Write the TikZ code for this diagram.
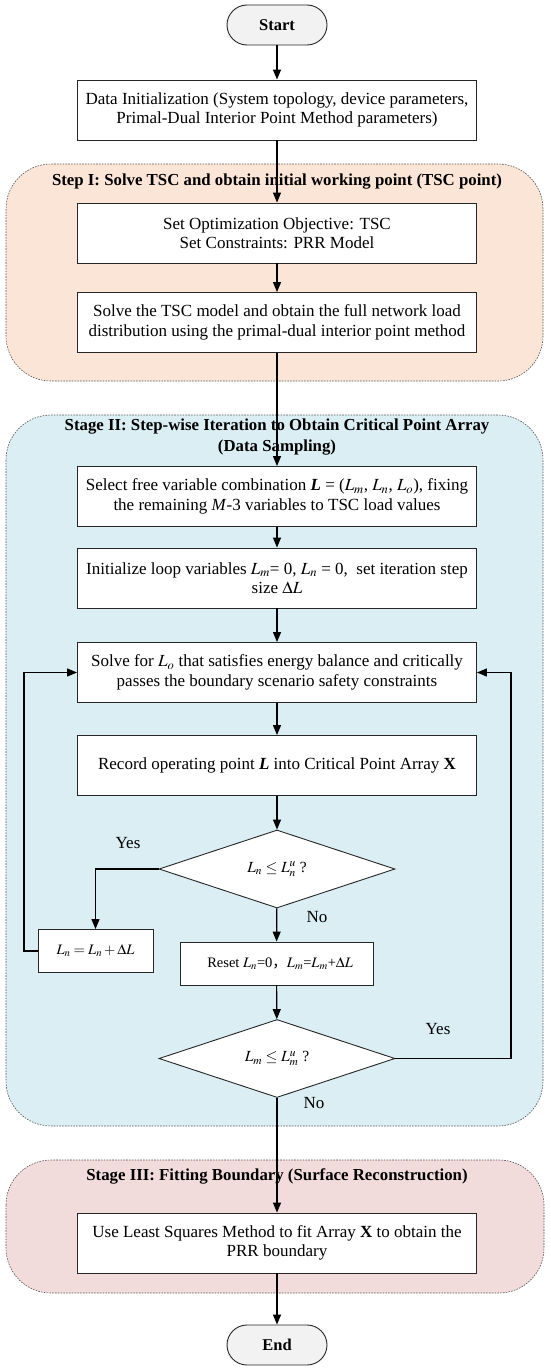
\documentclass[tikz,border=0pt]{standalone}
\usepackage{mathptmx}
\usepackage{fontspec}
\setmainfont{Liberation Serif}
\newfontfamily\cjk{Noto Sans CJK SC}
\usepackage{xcolor}
\usepackage{tikz}
\usetikzlibrary{positioning, arrows.meta, calc, shapes.geometric}
\definecolor{stageone}{HTML}{FBE5D6}
\definecolor{stagetwo}{HTML}{DAEEF3}
\definecolor{stagethree}{HTML}{F2DCDB}
\definecolor{termgray}{HTML}{F2F2F2}
\definecolor{edgegray}{HTML}{555555}

\begin{document}
\begin{tikzpicture}[x=1pt, y=-1pt,
    every node/.style={font=\fontsize{17}{19.5}\selectfont},
    region/.style={draw=edgegray, line width=0.6pt, dash pattern=on 1.6pt off 1.2pt, rounded corners=45pt},
    stagetitle/.style={font=\fontsize{16.8}{21}\selectfont\bfseries, align=center, inner sep=1pt},
    procbox/.style={draw=black!85, fill=white, line width=0.9pt, minimum width=399pt, minimum height=60pt, align=center, inner sep=2pt},
    smallbox/.style={procbox, minimum width=#1, minimum height=43pt, font=\fontsize{14.5}{19}\selectfont},
    terminal/.style={draw=black!85, fill=termgray, line width=0.9pt, rounded corners=20pt, minimum width=100pt, minimum height=40pt, font=\fontsize{16.5}{19}\selectfont\bfseries},
    decision/.style={diamond, draw=black!85, fill=white, line width=0.9pt, aspect=3, minimum width=236pt, minimum height=78pt, inner sep=0pt, font=\fontsize{15.5}{19}\selectfont},
    flow/.style={line width=1.2pt, -{Triangle[length=10pt,width=8pt]}},
    answer/.style={inner sep=1pt}]
  \useasboundingbox (0,0) rectangle (550,1370);

  % stage backgrounds
  \draw[region, fill=stageone] (6,164) rectangle (543,381);
  \draw[region, fill=stagetwo] (6,415) rectangle (543,1126);
  \draw[region, fill=stagethree] (6,1160) rectangle (544,1293);

  \node[stagetitle] (titleone) at (277,182) {Step I: Solve TSC and obtain initial working point (TSC point)};
  \node[stagetitle] (titletwo) at (277,437.5) {Stage II: Step-wise Iteration to Obtain Critical Point Array\\(Data Sampling)};
  \node[stagetitle] (titlethree) at (277,1176) {Stage III: Fitting Boundary (Surface Reconstruction)};

  % main column
  \node[terminal] (start) at (277,25) {Start};
  \node[procbox] (init) at (277,110) {Data Initialization (System topology, device parameters,\\Primal-Dual Interior Point Method parameters)};
  \node[procbox] (objective) at (277,233) {Set Optimization Objective: TSC\\Set Constraints: PRR Model};
  \node[procbox] (tscsolve) at (277,322.5) {Solve the TSC model and obtain the full network load\\distribution using the primal-dual interior point method};
  \node[procbox] (select) at (277,496.5) {Select free variable combination \textbf{\textit{L}} = ($L_m$, $L_n$, $L_o$), fixing\\the remaining \textit{M}-3 variables to TSC load values};
  \node[procbox] (loopinit) at (277,578) {Initialize loop variables $L_m$= 0, $L_n$ = 0,\ \ set iteration step\\size $\Delta L$};
  \node[procbox] (critical) at (277,672.5) {Solve for $L_o$ that satisfies energy balance and critically\\passes the boundary scenario safety constraints};
  \node[procbox] (record) at (277,765.5) {Record operating point \textbf{\textit{L}} into Critical Point Array \textbf{X}};
  \node[decision] (checkn) at (277,869) {$L_n \le L_n^u$ ?};
  \node[smallbox=115pt] (stepn) at (95.5,951) {$L_n = L_n + \Delta L$};
  \node[smallbox=193pt] (reset) at (276.5,963.5) {\ \ Reset $L_n$=0{\cjk ，}$L_m$=$L_m$+$\Delta L$};
  \node[decision] (checkm) at (277,1058.5) {$L_m \le L_m^u$ ?};
  \node[procbox] (fitting) at (277,1243) {Use Least Squares Method to fit Array \textbf{X} to obtain the\\PRR boundary};
  \node[terminal] (end) at (277,1345) {End};

  \coordinate (leftloop) at (24,951);
  \coordinate (rightloop) at (511,1058.5);

  % connectors
  \draw[flow] (start) -- (init);
  \draw[flow] (init) -- (objective);
  \draw[flow] (objective) -- (tscsolve);
  \draw[flow] (tscsolve) -- (select);
  \draw[flow] (select) -- (loopinit);
  \draw[flow] (loopinit) -- (critical);
  \draw[flow] (critical) -- (record);
  \draw[flow] (record) -- (checkn);
  \draw[flow] (checkn.west) -| (stepn.north);
  \draw[flow] (stepn.west) -- (leftloop) |- (critical.west);
  \draw[flow] (checkn) -- (reset);
  \draw[flow] (reset) -- (checkm);
  \draw[flow] (checkm.east) -- (rightloop) |- (critical.east);
  \draw[flow] (checkm) -- (fitting);
  \draw[flow] (fitting) -- (end);

  \node[answer] (yesn) at (128,843) {Yes};
  \node[answer] (non) at (317,917) {No};
  \node[answer] (yesm) at (438,1029) {Yes};
  \node[answer] (nom) at (314,1103) {No};
\end{tikzpicture}
\end{document}
